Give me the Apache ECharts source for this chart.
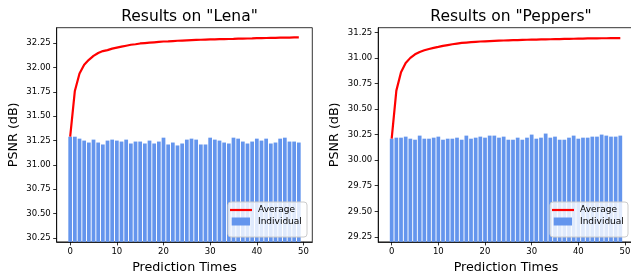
<!DOCTYPE html>
<html><head><meta charset="utf-8">
<script src="https://cdn.jsdelivr.net/npm/echarts@6/dist/echarts.min.js"></script>
<style>html,body{margin:0;padding:0;background:#fff}#c{width:631px;height:274px}</style>
</head><body><div id="c"></div>
<script>
const predictionTimes = [0,1,2,3,4,5,6,7,8,9,10,11,12,13,14,15,16,17,18,19,20,21,22,23,24,25,26,27,28,29,30,31,32,33,34,35,36,37,38,39,40,41,42,43,44,45,46,47,48,49];
const lenaIndividual = [31.29,31.29,31.27,31.25,31.23,31.26,31.23,31.21,31.25,31.26,31.25,31.24,31.26,31.22,31.24,31.24,31.22,31.25,31.22,31.24,31.28,31.21,31.23,31.20,31.22,31.26,31.27,31.26,31.21,31.21,31.28,31.26,31.25,31.23,31.22,31.28,31.27,31.24,31.22,31.24,31.27,31.25,31.27,31.22,31.23,31.27,31.28,31.24,31.24,31.23];
const lenaAverage = [31.29,31.76,31.94,32.03,32.08,32.12,32.15,32.17,32.18,32.195,32.205,32.215,32.225,32.235,32.24,32.248,32.252,32.256,32.26,32.264,32.268,32.27,32.273,32.276,32.278,32.28,32.282,32.284,32.286,32.288,32.29,32.291,32.292,32.293,32.294,32.295,32.297,32.298,32.299,32.30,32.302,32.303,32.304,32.305,32.306,32.307,32.308,32.309,32.31,32.31];
const peppersIndividual = [30.21,30.22,30.22,30.23,30.21,30.20,30.24,30.21,30.21,30.22,30.23,30.20,30.21,30.21,30.22,30.20,30.24,30.21,30.22,30.23,30.22,30.24,30.24,30.22,30.23,30.20,30.20,30.22,30.20,30.22,30.25,30.21,30.22,30.26,30.22,30.23,30.20,30.20,30.22,30.24,30.21,30.22,30.22,30.23,30.23,30.25,30.24,30.23,30.23,30.24];
const peppersAverage = [30.21,30.68,30.86,30.95,31.00,31.035,31.058,31.074,31.087,31.098,31.107,31.117,31.125,31.133,31.14,31.146,31.15,31.154,31.157,31.16,31.162,31.164,31.166,31.168,31.17,31.172,31.173,31.174,31.176,31.177,31.178,31.179,31.18,31.181,31.182,31.183,31.184,31.185,31.186,31.187,31.188,31.189,31.19,31.19,31.191,31.192,31.192,31.193,31.193,31.194];
const lenaYTicks = [30.25,30.5,30.75,31.0,31.25,31.5,31.75,32.0,32.25];
const peppersYTicks = [29.25,29.5,29.75,30.0,30.25,30.5,30.75,31.0,31.25];
const xTicks = [0,10,20,30,40,50];
const titles = ['Results on "Lena"', 'Results on "Peppers"'];
const xName = 'Prediction Times';
const yName = 'PSNR (dB)';
const seriesNames = ['Average', 'Individual'];

const FONT = 'DejaVu Sans';
const PW = 255.6, TOP = 27.7, PH = 214.2;
const panels = [
  {left: 56.7, ind: lenaIndividual, avg: lenaAverage, yTicks: lenaYTicks, ymin: 30.209, ymax: 32.41, lg: [228, 202, 79, 35]},
  {left: 378.2, ind: peppersIndividual, avg: peppersAverage, yTicks: peppersYTicks, ymin: 29.201, ymax: 31.295, lg: [550, 202, 78, 35]}
];

const option = {
  animation: false,
  backgroundColor: '#fff',
  textStyle: {fontFamily: FONT, color: '#000'},
  title: [], grid: [], xAxis: [], yAxis: [], series: [], legend: [], graphic: []
};
panels.forEach((p, k) => {
  option.title.push({
    text: titles[k], left: p.left + PW / 2, top: 4, textAlign: 'center',
    textStyle: {fontFamily: FONT, fontSize: 15.5, fontWeight: 'normal', color: '#000'}
  });
  option.grid.push({left: p.left, top: TOP, width: PW, height: PH, outerBoundsMode: 'none', containLabel: false,
    show: true, borderColor: '#000', borderWidth: 0.8, backgroundColor: 'transparent'});
  option.xAxis.push({
    type: 'value', gridIndex: k, min: -2.89, max: 51.89, z: 3,
    name: xName, nameLocation: 'middle', nameGap: 19,
    nameTextStyle: {fontFamily: FONT, fontSize: 12.7, color: '#000', verticalAlign: 'top'},
    axisLine: {show: true, onZero: false, lineStyle: {color: '#000', width: 0.8}},
    axisTick: {show: true, length: 3.5, lineStyle: {color: '#000', width: 0.8}, customValues: xTicks},
    axisLabel: {fontFamily: FONT, fontSize: 8.5, color: '#000', margin: 5.5, customValues: xTicks, formatter: v => String(v), hideOverlap: false},
    splitLine: {show: false}
  });
  option.yAxis.push({
    type: 'value', gridIndex: k, min: p.ymin, max: p.ymax, z: 3,
    name: yName, nameLocation: 'middle', nameGap: 37,
    nameTextStyle: {fontFamily: FONT, fontSize: 12.7, color: '#000'},
    axisLine: {show: true, onZero: false, lineStyle: {color: '#000', width: 0.8}},
    axisTick: {show: true, length: 3.5, lineStyle: {color: '#000', width: 0.8}, customValues: p.yTicks},
    axisLabel: {fontFamily: FONT, fontSize: 8.5, color: '#000', margin: 6, customValues: p.yTicks, formatter: v => v.toFixed(2)},
    splitLine: {show: false}
  });
  option.series.push({
    name: seriesNames[1], type: 'bar', xAxisIndex: k, yAxisIndex: k, barWidth: 3.73, z: 2,
    itemStyle: {color: '#6495ED'}, clip: true,
    data: predictionTimes.map((t, i) => [t, p.ind[i]])
  });
  option.series.push({
    name: seriesNames[0], type: 'line', xAxisIndex: k, yAxisIndex: k, z: 2.5,
    showSymbol: false, symbol: 'none', smooth: false,
    itemStyle: {color: '#ff0000'}, lineStyle: {color: '#ff0000', width: 2.2},
    data: predictionTimes.map((t, i) => [t, p.avg[i]])
  });
  option.graphic.push({
    type: 'rect', z: 3, silent: true,
    shape: {x: p.lg[0], y: p.lg[1], width: p.lg[2], height: p.lg[3], r: 3},
    style: {fill: 'rgba(255,255,255,0.8)', stroke: '#cccccc', lineWidth: 1}
  });
  option.legend.push({
    data: [{name: seriesNames[0], icon: 'rect'}], left: p.lg[0] + 2, top: p.lg[1] + 3.5, padding: 0,
    itemWidth: 22, itemHeight: 2.2, selectedMode: false, z: 5,
    textStyle: {fontFamily: FONT, fontSize: 9, color: '#000', padding: [0, 0, 0, 1]}
  });
  option.legend.push({
    data: [{name: seriesNames[1], icon: 'rect'}], left: p.lg[0] + 3.7, top: p.lg[1] + 15, padding: 0,
    itemWidth: 18.3, itemHeight: 8, selectedMode: false, z: 5,
    textStyle: {fontFamily: FONT, fontSize: 9, color: '#000', padding: [0, 0, 0, 3]}
  });
});
const chart = echarts.init(document.getElementById('c'), null, {renderer: 'canvas'});
chart.setOption(option);
</script>
</body></html>
